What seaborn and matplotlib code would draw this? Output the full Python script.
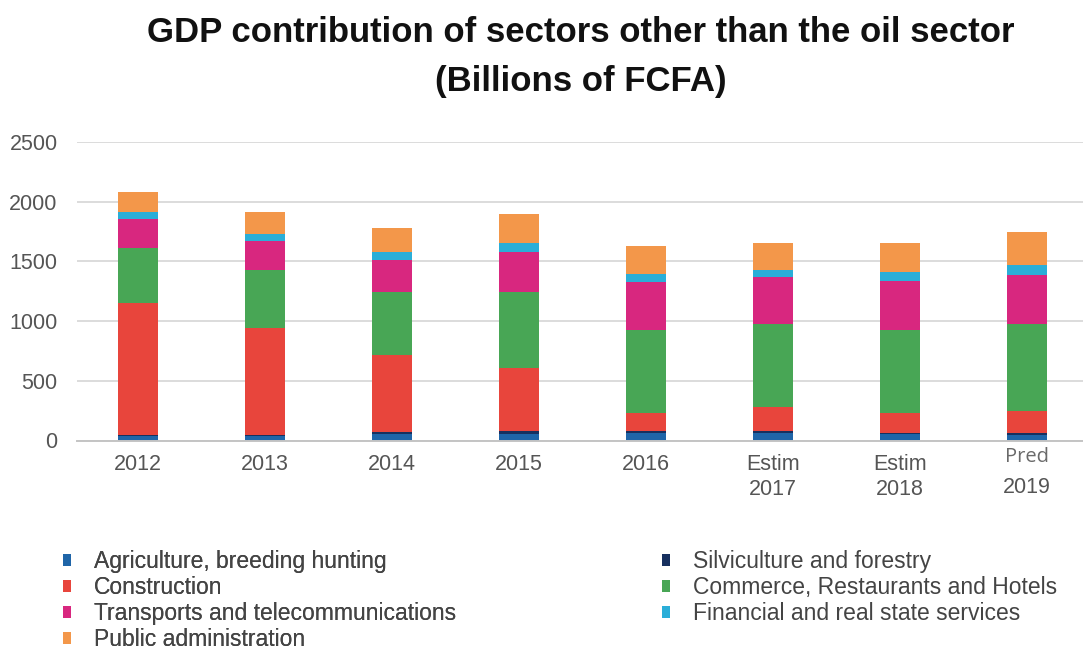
import numpy as np
import matplotlib
matplotlib.use("Agg")
import matplotlib.pyplot as plt
import seaborn as sns
from matplotlib.patches import Patch

# Non-oil GDP by sector, billions of FCFA
years = ["2012", "2013", "2014", "2015", "2016", "Estim\n2017", "Estim\n2018", "Pred\n2019"]
agriculture = [40, 40, 55, 52, 60, 60, 52, 50]
silviculture = [10, 10, 15, 28, 22, 22, 14, 14]
construction = [1105, 890, 647, 528, 150, 197, 166, 182]
commerce = [458, 489, 530, 639, 697, 698, 697, 728]
transports = [240, 240, 268, 332, 396, 390, 405, 410]
financial = [61, 61, 61, 78, 73, 62, 78, 86]
public_admin = [167, 184, 201, 240, 229, 228, 245, 274]

y_ticks = [0, 500, 1000, 1500, 2000, 2500]

# stacking order, bottom to top
stack = [
    ("Agriculture, breeding hunting", agriculture, "#1f65a8"),
    ("Silviculture and forestry", silviculture, "#17305f"),
    ("Construction", construction, "#e8453c"),
    ("Commerce, Restaurants and Hotels", commerce, "#48a655"),
    ("Transports and telecommunications", transports, "#d8277f"),
    ("Financial and real state services", financial, "#2aaed8"),
    ("Public administration", public_admin, "#f3974a"),
]

sns.set_theme(style="white")
plt.rcParams["font.family"] = ["Liberation Sans", "DejaVu Sans"]

W, H = 1083, 650
fig = plt.figure(figsize=(W / 100, H / 100), dpi=100)
ax = fig.add_axes([77 / W, 1 - 440.5 / H, (W - 77) / W, (440.5 - 142) / H])

bottom = np.zeros(len(years))
for name, vals, col in stack:
    sns.barplot(x=years, y=vals, bottom=bottom, color=col, width=0.32,
                errorbar=None, saturation=1, linewidth=0, ax=ax)
    bottom = bottom + np.array(vals)

ax.set_xlim(-0.48, 7.44)
ax.set_ylim(0, 2500)
ax.set_yticks(y_ticks)
ax.set_yticklabels([str(v) for v in y_ticks])
ax.yaxis.grid(True, color="#d6d6d6", linewidth=1.2)
ax.set_axisbelow(True)
for s in ["top", "right", "left"]:
    ax.spines[s].set_visible(False)
ax.spines["bottom"].set_color("#c4c4c4")
ax.spines["bottom"].set_linewidth(1.4)
ax.tick_params(axis="both", length=0, labelsize=15.5, colors="#555555")
ax.tick_params(axis="y", pad=14)
ax.tick_params(axis="x", pad=10)

# category labels; the forecast column is labelled separately so its
# prefix can use a lighter face
tick_labels = ["" if lab.startswith("Pred") else lab for lab in years]
ax.set_xticks(range(len(years)))
ax.set_xticklabels(tick_labels, linespacing=1.2)
pred_prefix, pred_year = years[-1].split("\n")
ax.annotate(pred_prefix, xy=(len(years) - 1, 0), xycoords="data",
            xytext=(0, -17), textcoords="offset pixels", ha="center", va="center",
            fontsize=14.5, color="#6a6a6a", family="Open Sans")
ax.annotate(pred_year, xy=(len(years) - 1, 0), xycoords="data",
            xytext=(0, -47), textcoords="offset pixels", ha="center", va="center",
            fontsize=15.5, color="#555555")
ax.set_xlabel("")
ax.set_ylabel("")

fig.text(581 / W, 1 - 33 / H, "GDP contribution of sectors other than the oil sector",
         ha="center", va="center", fontsize=25, fontweight="bold", color="#111111")
fig.text(581 / W, 1 - 81 / H, "(Billions of FCFA)",
         ha="center", va="center", fontsize=25, fontweight="bold", color="#111111")

handles = {name: Patch(facecolor=col, edgecolor="none") for name, _, col in stack}
left_items = ["Agriculture, breeding hunting", "Construction",
              "Transports and telecommunications", "Public administration"]
right_items = ["Silviculture and forestry", "Commerce, Restaurants and Hotels",
               "Financial and real state services"]
leg_kw = dict(loc="upper left", frameon=False, fontsize=16.5, borderpad=0,
              borderaxespad=0, handlelength=0.36, handleheight=0.42,
              handletextpad=1.0, labelspacing=0.13, labelcolor="#444444")
leg1 = fig.legend([handles[n] for n in left_items], left_items,
                  bbox_to_anchor=(63 / W, 1 - 550 / H), **leg_kw)
fig.add_artist(leg1)
fig.legend([handles[n] for n in right_items], right_items,
           bbox_to_anchor=(662 / W, 1 - 550 / H), **leg_kw)

fig.savefig("out.png", dpi=100)
